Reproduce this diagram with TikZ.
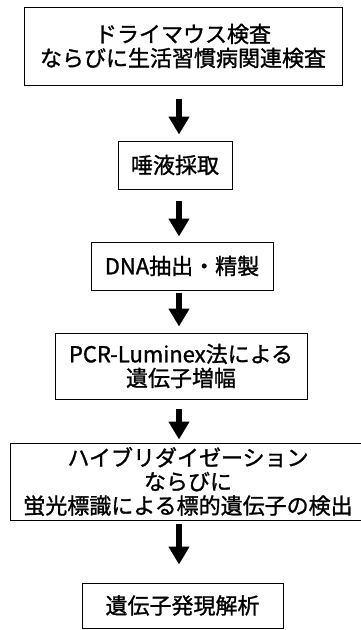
\documentclass[tikz,border=0pt]{standalone}
\usepackage{fontspec}
\setmainfont{Noto Sans CJK JP}[FakeBold=1.2]
\usetikzlibrary{arrows.meta}
\tikzset{
  box/.style={draw=black, line width=1pt, align=center, inner sep=0pt,
    font=\fontsize{22}{24}\selectfont},
  flow/.style={line width=6pt, -{Triangle[width=20pt,length=18pt]}},
}
\begin{document}
\begin{tikzpicture}
\useasboundingbox (0pt,0pt) rectangle (360pt,-630pt);
\coordinate (ax) at (179pt,0pt);
\node[box, minimum width=318pt, minimum height=78pt] (b1) at (183pt,-46pt)
  {ドライマウス検査\\ならびに生活習慣病関連検査};
\node[box, minimum width=114pt, minimum height=48pt] (b2) at (175pt,-165pt) {唾液採取};
\node[box, minimum width=182pt, minimum height=48pt] (b3) at (182pt,-266pt) {DNA抽出・精製};
\node[box, minimum width=252pt, minimum height=66pt] (b4) at (181pt,-366pt)
  {PCR-Luminex法による\\遺伝子増幅};
\node[box, minimum width=356pt, minimum height=77pt] (b5) at (188pt,-481.5pt)
  {ハイブリダイゼーション\\ならびに\\蛍光標識による標的遺伝子の検出};
\node[box, minimum width=201pt, minimum height=45pt] (b6) at (182.5pt,-605.5pt) {遺伝子発現解析};
\draw[flow, shorten <=13pt, shorten >=6pt] (b1.south -| ax) -- (b2.north -| ax);
\draw[flow, shorten <=11pt, shorten >=5pt] (b2.south -| ax) -- (b3.north -| ax);
\draw[flow, shorten <=2pt, shorten >=6pt] (b3.south -| ax) -- (b4.north -| ax);
\draw[flow, shorten <=9pt, shorten >=3pt] (b4.south -| ax) -- (b5.north -| ax);
\draw[flow, shorten <=3pt, shorten >=18pt] (b5.south -| ax) -- (b6.north -| ax);
\end{tikzpicture}
\end{document}
